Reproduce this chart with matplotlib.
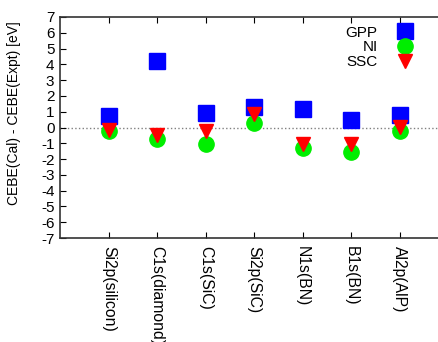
import matplotlib
matplotlib.use("Agg")
import matplotlib.pyplot as plt

plt.rcParams['font.family'] = ['Liberation Sans', 'DejaVu Sans']
plt.rcParams['axes.unicode_minus'] = False

# 데이터
labels = ["Si2p(silicon)", "C1s(diamond)", "C1s(SiC)", "Si2p(SiC)", "N1s(BN)", "B1s(BN)", "Al2p(AlP)"]
pos = [1, 2, 3, 4, 5, 6, 7]
gpp = [0.72, 4.2, 0.9, 1.3, 1.15, 0.45, 0.78]
ni = [-0.2, -0.75, -1.06, 0.27, -1.32, -1.53, -0.22]
ssc = [-0.17, -0.45, -0.25, 0.85, -1.05, -1.05, 0.02]

fig = plt.figure(figsize=(4.38, 3.42), dpi=100)
# 오른쪽은 그림 밖으로 잘림
ax = fig.add_axes([60 / 438, 1 - 238 / 342, 388 / 438, 221 / 342])

ax.axhline(0, color='gray', linestyle=':', linewidth=1.0, zorder=1)

ax.plot(pos, gpp, linestyle='none', marker='s', markersize=11, color='#0000ff', label='GPP', zorder=3)
ax.plot(pos, ni, linestyle='none', marker='o', markersize=11, color='#00ee00', label='NI', zorder=3)
ax.plot(pos, ssc, linestyle='none', marker='v', markersize=10, color='#ff0000', label='SSC', zorder=4)

ax.set_xlim(0, 8)
ax.set_ylim(-7, 7)
ax.set_yticks(range(-7, 8))
ax.set_xticks(pos)
ax.set_xticklabels(labels, rotation=270, va='top', ha='center', fontsize=11.3)
ax.tick_params(axis='y', direction='in', labelsize=11, length=4, right=False, pad=4)
ax.tick_params(axis='x', direction='in', top=True, length=4, pad=6)
ax.set_ylabel("CEBE(Cal) - CEBE(Expt) [eV]", fontsize=10)
ax.yaxis.set_label_coords(-0.1, 0.563)

for side in ['left', 'top', 'bottom']:
    ax.spines[side].set_linewidth(1.2)
    ax.spines[side].set_color('#333333')
ax.spines['right'].set_visible(False)

ax.legend(loc='upper right', bbox_to_anchor=(422 / 438, 1 - 18 / 342), bbox_transform=fig.transFigure,
          markerfirst=False, frameon=False, fontsize=11, handletextpad=1.2,
          labelspacing=0.05, borderpad=0, handlelength=1.2)

fig.savefig("out.png", dpi=100)
